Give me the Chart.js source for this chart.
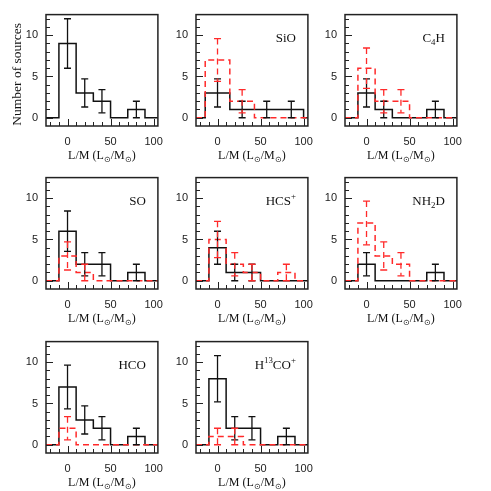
<!DOCTYPE html>
<html>
<head>
<meta charset="utf-8">
<script src="https://cdn.jsdelivr.net/npm/chart.js@4/dist/chart.umd.min.js"></script>
<style>
html,body{margin:0;padding:0;background:#fff;}
#wrap{position:relative;width:491px;height:491px;overflow:hidden;background:#fff;}
canvas{position:absolute;}
</style>
</head>
<body>
<div id="wrap"></div>
<script>
// ---- data ----
const xTickLabels = [0, 50, 100];
const yTickLabels = [0, 5, 10];
const edgesStd = [-10, 10, 30, 50, 70, 90];
const edgesSiO = [-14.3, 14.3, 42.9, 71.4, 100];

const panelNames = ["", "SiO", "C4H", "SO", "HCS+", "NH2D", "HCO", "H13CO+"];
// label segments: [text, mode] mode: "" normal, "sub", "sup"
const panelLabels = [
  [],
  [["SiO", ""]],
  [["C", ""], ["4", "sub"], ["H", ""]],
  [["SO", ""]],
  [["HCS", ""], ["+", "sup"]],
  [["NH", ""], ["2", "sub"], ["D", ""]],
  [["HCO", ""]],
  [["H", ""], ["13", "sup"], ["CO", ""], ["+", "sup"]]
];

const allCounts = [9, 3, 2, 0, 1];
const allErrs   = [3, 1.7, 1.4, 0, 1];

const sioBlack = [3, 1, 1, 1];
const sioBlackErr = [1.7, 1, 1, 1];
const sioRed = [7, 2, 0, 0];
const sioRedErr = [2.6, 1.4, 0, 0];

const c4hBlack = [3, 1, 0, 0, 1];
const c4hBlackErr = [1.7, 1, 0, 0, 1];
const c4hRed = [6, 2, 2, 0, 0];
const c4hRedErr = [2.45, 1.4, 1.4, 0, 0];

const soBlack = [6, 2, 2, 0, 1];
const soBlackErr = [2.45, 1.4, 1.4, 0, 1];
const soRed = [3, 1, 0, 0, 0];
const soRedErr = [1.7, 1, 0, 0, 0];

const hcsBlack = [4, 1, 1, 0, 0];
const hcsBlackErr = [2, 1, 1, 0, 0];
const hcsRed = [5, 2, 1, 0, 1];
const hcsRedErr = [2.2, 1.4, 1, 0, 1];

const nh2dBlack = [2, 0, 0, 0, 1];
const nh2dBlackErr = [1.4, 0, 0, 0, 1];
const nh2dRed = [7, 3, 2, 0, 0];
const nh2dRedErr = [2.65, 1.7, 1.4, 0, 0];

const hcoBlack = [7, 3, 2, 0, 1];
const hcoBlackErr = [2.65, 1.7, 1.4, 0, 1];
const hcoRed = [2, 0, 0, 0, 0];
const hcoRedErr = [1.4, 0, 0, 0, 0];

const h13coBlack = [8, 2, 2, 0, 1];
const h13coBlackErr = [2.8, 1.4, 1.4, 0, 1];
const h13coRed = [1, 1, 0, 0, 0];
const h13coRedErr = [1, 1, 0, 0, 0];

const panels = [
  {edges: edgesStd, black: allCounts, blackErr: allErrs, red: null, redErr: null},
  {edges: edgesSiO, black: sioBlack, blackErr: sioBlackErr, red: sioRed, redErr: sioRedErr},
  {edges: edgesStd, black: c4hBlack, blackErr: c4hBlackErr, red: c4hRed, redErr: c4hRedErr},
  {edges: edgesStd, black: soBlack, blackErr: soBlackErr, red: soRed, redErr: soRedErr},
  {edges: edgesStd, black: hcsBlack, blackErr: hcsBlackErr, red: hcsRed, redErr: hcsRedErr},
  {edges: edgesStd, black: nh2dBlack, blackErr: nh2dBlackErr, red: nh2dRed, redErr: nh2dRedErr},
  {edges: edgesStd, black: hcoBlack, blackErr: hcoBlackErr, red: hcoRed, redErr: hcoRedErr},
  {edges: edgesStd, black: h13coBlack, blackErr: h13coBlackErr, red: h13coRed, redErr: h13coRedErr}
];

// ---- layout ----
const X_MIN = -25, X_MAX = 105, Y_MIN = -1, Y_MAX = 12.5;
const colLeft = [46, 196, 345];
const rowTop = [6, 169, 333];
const PW = 120, PH = 120;
const PADL = 46, PADT = 6;
const BLACK = '#111';
const RED = '#ff2a2a';
const RED_DASH = [6, 4];

function histPoints(edges, counts) {
  const pts = [{x: X_MIN, y: 0}];
  for (let i = 0; i < counts.length; i++) pts.push({x: edges[i], y: counts[i]});
  pts.push({x: edges[edges.length - 1], y: 0});
  pts.push({x: X_MAX, y: 0});
  return pts;
}

function drawSegText(ctx, segs, xRight, yBase, size, family) {
  const parts = segs.map(([t, m]) => {
    const fs = m ? size * 0.68 : size;
    ctx.font = fs + 'px ' + family;
    return {t, m, fs, w: ctx.measureText(t).width};
  });
  const total = parts.reduce((a, p) => a + p.w, 0);
  let x = xRight - total;
  ctx.textAlign = 'left';
  ctx.textBaseline = 'alphabetic';
  for (const p of parts) {
    ctx.font = p.fs + 'px ' + family;
    let y = yBase;
    if (p.m === 'sub') y += size * 0.25;
    if (p.m === 'sup') y -= size * 0.4;
    ctx.fillText(p.t, x, y);
    x += p.w;
  }
}

function drawErrBars(ctx, xs, ys, edges, counts, errs, color, dashed) {
  ctx.save();
  ctx.strokeStyle = color;
  ctx.lineWidth = 1.3;
  if (dashed) ctx.setLineDash(RED_DASH); else ctx.setLineDash([]);
  for (let i = 0; i < counts.length; i++) {
    const e = errs[i];
    if (!e) continue;
    const c = (edges[i] + edges[i + 1]) / 2;
    const px = xs.getPixelForValue(c);
    const top = ys.getPixelForValue(counts[i] + e);
    const bot = ys.getPixelForValue(counts[i] - e);
    ctx.beginPath();
    ctx.moveTo(px, top); ctx.lineTo(px, bot);
    ctx.stroke();
    ctx.setLineDash([]);
    ctx.beginPath();
    ctx.moveTo(px - 3.5, top); ctx.lineTo(px + 3.5, top);
    ctx.moveTo(px - 3.5, bot); ctx.lineTo(px + 3.5, bot);
    ctx.stroke();
    if (dashed) ctx.setLineDash(RED_DASH);
  }
  ctx.restore();
}

const panelPlugin = {
  id: 'panelPlugin',
  afterDatasetsDraw(chart) {
    const p = chart.options.plugins.panelPlugin;
    const pd = panels[p.index];
    const ctx = chart.ctx;
    const xs = chart.scales.x, ys = chart.scales.y;
    drawErrBars(ctx, xs, ys, pd.edges, pd.black, pd.blackErr, BLACK, false);
    if (pd.red) drawErrBars(ctx, xs, ys, pd.edges, pd.red, pd.redErr, RED, true);
  },
  afterDraw(chart) {
    const p = chart.options.plugins.panelPlugin;
    const ctx = chart.ctx;
    const a = chart.chartArea;
    const xs = chart.scales.x, ys = chart.scales.y;
    ctx.save();
    ctx.strokeStyle = '#222';
    ctx.lineWidth = 1.5;
    ctx.setLineDash([]);
    ctx.strokeRect(a.left, a.top, a.right - a.left, a.bottom - a.top);
    ctx.lineWidth = 1;
    ctx.beginPath();
    for (let v = -20; v <= 100; v += 10) {
      const px = Math.round(xs.getPixelForValue(v)) + 0.5;
      const len = (v % 50 === 0) ? 7 : 4;
      ctx.moveTo(px, a.bottom); ctx.lineTo(px, a.bottom - len);
    }
    for (let v = 0; v <= 12; v += 1) {
      const py = Math.round(ys.getPixelForValue(v)) + 0.5;
      const len = (v % 5 === 0) ? 7 : 4;
      ctx.moveTo(a.left, py); ctx.lineTo(a.left + len, py);
    }
    ctx.stroke();
    ctx.fillStyle = '#111';
    const segs = panelLabels[p.index];
    if (segs.length) drawSegText(ctx, segs, a.right - 12, a.top + 27, 13, '"Liberation Serif", serif');
    const title = [["L/M (L", ""], ["\u2299", "sub"], ["/M", ""], ["\u2299", "sub"], [")", ""]];
    const cx = (a.left + a.right) / 2;
    let tw = 0;
    for (const [t, m] of title) { ctx.font = (m ? 12 * 0.68 : 12) + 'px "Liberation Serif", serif'; tw += ctx.measureText(t).width; }
    drawSegText(ctx, title, cx + tw / 2, a.bottom + 33, 12, '"Liberation Serif", serif');
    if (p.index === 0) {
      ctx.save();
      ctx.translate(17, (a.top + a.bottom) / 2 + 4);
      ctx.rotate(-Math.PI / 2);
      ctx.font = '13.5px "Liberation Serif", serif';
      ctx.textAlign = 'center';
      ctx.textBaseline = 'middle';
      ctx.fillText('Number of sources', 0, 0);
      ctx.restore();
    }
    ctx.restore();
  }
};

const wrap = document.getElementById('wrap');
panels.forEach((pd, idx) => {
  const col = idx % 3, row = Math.floor(idx / 3);
  const cv = document.createElement('canvas');
  const W = PADL + PW + 6, H = PADT + PH + 44;
  cv.width = W; cv.height = H;
  cv.style.width = W + 'px'; cv.style.height = H + 'px';
  cv.style.left = (colLeft[col] - PADL) + 'px';
  cv.style.top = (rowTop[row] - PADT) + 'px';
  wrap.appendChild(cv);
  const datasets = [{
    data: histPoints(pd.edges, pd.black),
    borderColor: BLACK, borderWidth: 1.5, stepped: 'before',
    pointRadius: 0, fill: false, order: 2
  }];
  if (pd.red) datasets.push({
    data: histPoints(pd.edges, pd.red),
    borderColor: RED, borderWidth: 1.5, borderDash: RED_DASH, stepped: 'before',
    pointRadius: 0, fill: false, order: 1
  });
  new Chart(cv, {
    type: 'line',
    data: {datasets},
    plugins: [panelPlugin],
    options: {
      responsive: false, animation: false, devicePixelRatio: 1,
      layout: {padding: {left: 0, top: PADT, right: 6, bottom: 0}},
      plugins: {legend: {display: false}, tooltip: {enabled: false}, panelPlugin: {index: idx}},
      scales: {
        x: {
          type: 'linear', min: X_MIN, max: X_MAX,
          grid: {display: false, drawTicks: false}, border: {display: false},
          afterBuildTicks: s => { s.ticks = xTickLabels.map(v => ({value: v})); },
          afterFit: s => { s.height = 44; },
          ticks: {padding: 9, color: '#222', maxRotation: 0, font: {family: '"Liberation Sans", sans-serif', size: 11}}
        },
        y: {
          type: 'linear', min: Y_MIN, max: Y_MAX,
          grid: {display: false, drawTicks: false}, border: {display: false},
          afterBuildTicks: s => { s.ticks = yTickLabels.map(v => ({value: v})); },
          afterFit: s => { s.width = PADL; },
          ticks: {padding: 8, color: '#222', font: {family: '"Liberation Sans", sans-serif', size: 11}}
        }
      }
    }
  });
});
</script>
</body>
</html>
